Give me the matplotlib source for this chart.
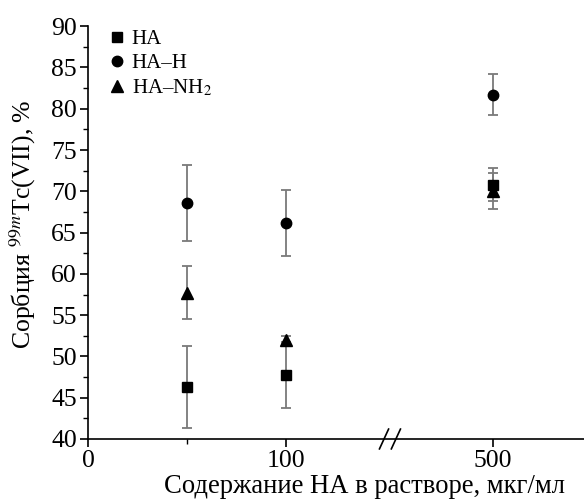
import matplotlib.pyplot as plt
import numpy as np

plt.rcParams['font.family'] = ['Liberation Serif', 'DejaVu Serif']
plt.rcParams['mathtext.fontset'] = 'stix'

# concentration of HA, ug/ml
conc = [50, 100, 500]

ha = [46.3, 47.8, 70.8]
ha_err = [5.0, 4.0, 2.0]
ha_h = [68.6, 66.2, 81.7]
ha_h_err = [4.6, 4.0, 2.5]
ha_nh2 = [57.7, 52.0, 70.0]
ha_nh2_err = [3.2, 0.5, 2.2]

xticks = [0, 100, 500]
xtick_labels = ['0', '100', '500']

# broken axis: above 100 the scale is compressed
k = 0.261


def fwd(x):
    x = np.asarray(x, dtype=float)
    return np.where(x <= 100, x, 100 + (x - 100) * k)


def inv(x):
    x = np.asarray(x, dtype=float)
    return np.where(x <= 100, x, 100 + (x - 100) / k)


fig = plt.figure(figsize=(5.84, 5.04), dpi=100)
ax = fig.add_axes([0.1507, 0.129, 0.8493, 0.819])
ax.set_xscale('function', functions=(fwd, inv))

ekw = dict(ecolor='#7a7a7a', elinewidth=1.3, capsize=3.7, capthick=1.3, ls='none', color='black')
e1 = ax.errorbar(conc, ha, yerr=ha_err, marker='s', ms=7.5, **ekw)
e2 = ax.errorbar(conc, ha_h, yerr=ha_h_err, marker='o', ms=7.5, **ekw)
e3 = ax.errorbar(conc, ha_nh2, yerr=ha_nh2_err, marker='^', ms=8.5, **ekw)

ax.set_xlim(0, inv(250.5))
ax.set_ylim(40, 90)
ax.set_xticks(xticks)
ax.set_xticklabels(xtick_labels)
ax.set_xticks([50], minor=True)
ax.set_yticks(np.arange(40, 91, 5))
ax.set_yticks(np.arange(42.5, 90, 5), minor=True)

for s in ['top', 'right']:
    ax.spines[s].set_visible(False)
ax.spines['left'].set_linewidth(1.2)
ax.spines['bottom'].set_linewidth(1.2)
ax.tick_params(labelsize=18.5, width=1.2, length=6, direction='out', pad=2)
ax.tick_params(which='minor', width=1.0, length=3.5)

# break marks on the x axis
xc = 152.5
for dx in (-3.0, 3.0):
    ax.plot(inv([xc + dx - 2.3, xc + dx + 2.3]), [38.8, 41.2], color='black', lw=1.2,
            clip_on=False)

ax.set_xlabel('Содержание НА в растворе, мкг/мл', fontsize=19.2)
ax.xaxis.set_label_coords(0.558, -0.085)
ax.set_ylabel('Сорбция $^{99m}$Tc(VII), %', fontsize=18.5)
ax.yaxis.set_label_coords(-0.1, 0.52)

ax.legend([e1[0], e2[0], e3[0]], ['HA', 'HA–H', 'HA–NH$_2$'], loc='upper left',
          frameon=False, fontsize=15, handletextpad=0.2, labelspacing=0.22,
          handlelength=1.0, borderaxespad=0, bbox_to_anchor=(0.021, 1.012))

fig.savefig('out.png', dpi=100)
